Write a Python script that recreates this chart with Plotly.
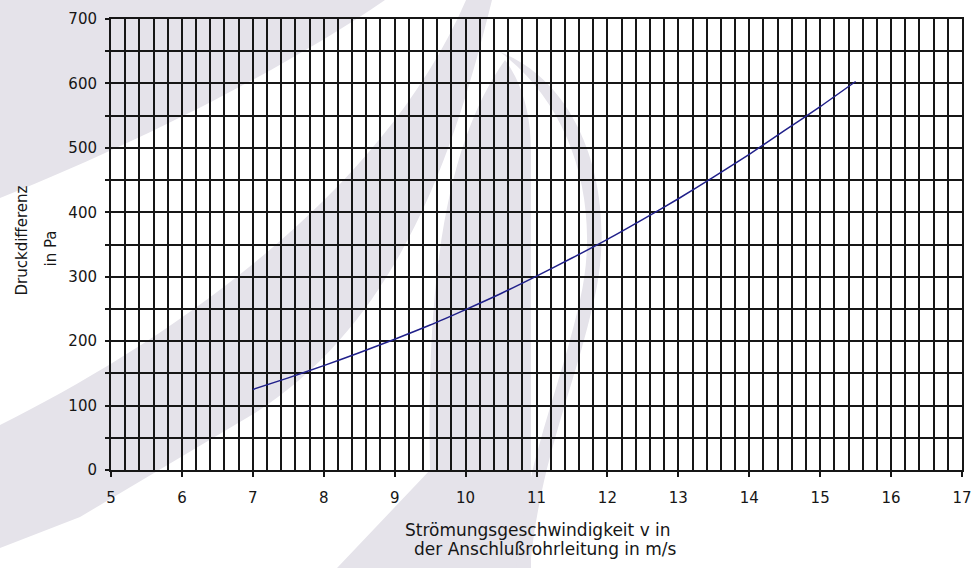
import plotly.graph_objects as go

# ---- data ----
velocity = [7, 7.5, 8, 8.5, 9, 9.5, 10, 10.5, 11, 11.5, 12, 12.5, 13, 13.5, 14, 14.5, 15, 15.5]
pressure = [125, 143, 162, 182, 203, 225, 249, 274, 301, 329, 358, 389, 421, 455, 490, 527, 564, 603]
x_ticks = list(range(5, 18))
y_ticks = list(range(0, 701, 100))
y_title_lines = ["Druckdifferenz", "in Pa"]
x_title_lines = ["Strömungsgeschwindigkeit v in", "der Anschlußrohrleitung in m/s"]

W, H = 974, 568
L, R, T, B = 111, 12, 19, 98
PW, PH = W - L - R, H - T - B

FONT = "DejaVu Sans"
INK = "#161616"
WM = "#e5e3ea"


def px(x, y):
    return (x - L) / PW, (H - B - y) / PH


def path(cmds):
    out = []
    for c, pts in cmds:
        seg = c
        if pts:
            seg += " " + " ".join("%.4f,%.4f" % px(*p) for p in pts)
        out.append(seg)
    return " ".join(out)


watermark = [
    [("M", [(0, 0)]), ("L", [(385, 0)]), ("C", [(290, 65), (150, 138), (0, 198)]), ("Z", [])],
    [("M", [(0, 425)]), ("C", [(160, 345), (380, 200), (466, 0)]), ("L", [(492, 0)]),
     ("C", [(455, 150), (400, 320), (255, 413)]), ("L", [(80, 517)]), ("L", [(0, 548)]), ("Z", [])],
    [("M", [(505, 60)]), ("C", [(455, 130), (425, 250), (430, 470)]), ("L", [(337, 568)]),
     ("L", [(531, 568)]), ("L", [(531, 150)]), ("C", [(531, 110), (520, 80), (505, 60)]), ("Z", [])],
    [("M", [(500, 52)]), ("C", [(585, 85), (618, 200), (594, 300)]),
     ("C", [(574, 390), (540, 460), (530, 568)]), ("L", [(516, 568)]),
     ("C", [(526, 460), (560, 390), (580, 300)]), ("C", [(602, 205), (572, 105), (500, 52)]), ("Z", [])],
]

fig = go.Figure()
fig.add_trace(go.Scatter(
    x=velocity, y=pressure, mode="lines",
    line=dict(color="#20208a", width=1.5, shape="spline", smoothing=0.6),
    showlegend=False, hoverinfo="x+y",
))

shapes = [dict(type="path", path=path(p), xref="paper", yref="paper",
               fillcolor=WM, line=dict(width=0), layer="below") for p in watermark]

annotations = [
    dict(text=y_title_lines[0], xref="paper", yref="paper", x=0, y=0.5,
         xshift=21 - L, yshift=4, textangle=-90, showarrow=False,
         xanchor="center", yanchor="middle", font=dict(family=FONT, size=15, color=INK)),
    dict(text=y_title_lines[1], xref="paper", yref="paper", x=0, y=0.5,
         xshift=50 - L, yshift=-4, textangle=-90, showarrow=False,
         xanchor="center", yanchor="middle", font=dict(family=FONT, size=15, color=INK)),
]
for line_text, cy, cx in zip(x_title_lines, [530, 549], [538, 545]):
    annotations.append(dict(
        text=line_text, xref="paper", yref="paper", x=(cx - L) / PW, y=0,
        yshift=(H - B) - cy, showarrow=False, xanchor="center", yanchor="middle",
        font=dict(family=FONT, size=17, color=INK)))

fig.update_layout(
    width=W, height=H,
    margin=dict(l=L, r=R, t=T, b=B, autoexpand=False),
    paper_bgcolor="white",
    plot_bgcolor="rgba(0,0,0,0)",
    font=dict(family=FONT, size=15, color=INK),
    shapes=shapes,
    xaxis=dict(
        range=[5, 17], tickvals=x_ticks, ticktext=[str(v) for v in x_ticks],
        showgrid=True, gridcolor=INK, gridwidth=2,
        minor=dict(dtick=0.2, showgrid=True, gridcolor=INK, gridwidth=2, ticks=""),
        showline=True, linecolor=INK, linewidth=2, mirror=True,
        ticks="outside", ticklen=5, tickwidth=2, tickcolor=INK,
        ticklabelstandoff=8, zeroline=False, automargin=False,
        tickfont=dict(family=FONT, size=15, color=INK),
    ),
    yaxis=dict(
        range=[0, 700], tickvals=y_ticks, ticktext=[str(v) for v in y_ticks],
        showgrid=True, gridcolor=INK, gridwidth=2,
        minor=dict(dtick=50, showgrid=True, gridcolor=INK, gridwidth=2,
                   ticks="outside", ticklen=4, tickwidth=2, tickcolor=INK),
        showline=True, linecolor=INK, linewidth=2, mirror=True,
        ticks="outside", ticklen=4, tickwidth=2, tickcolor=INK,
        ticklabelstandoff=5, zeroline=False, automargin=False,
        tickfont=dict(family=FONT, size=15, color=INK),
    ),
    annotations=annotations,
)

fig.write_html(
    "out.html",
    config={"displayModeBar": False},
    post_script="document.body.style.margin='0';document.body.style.overflow='hidden';",
)
